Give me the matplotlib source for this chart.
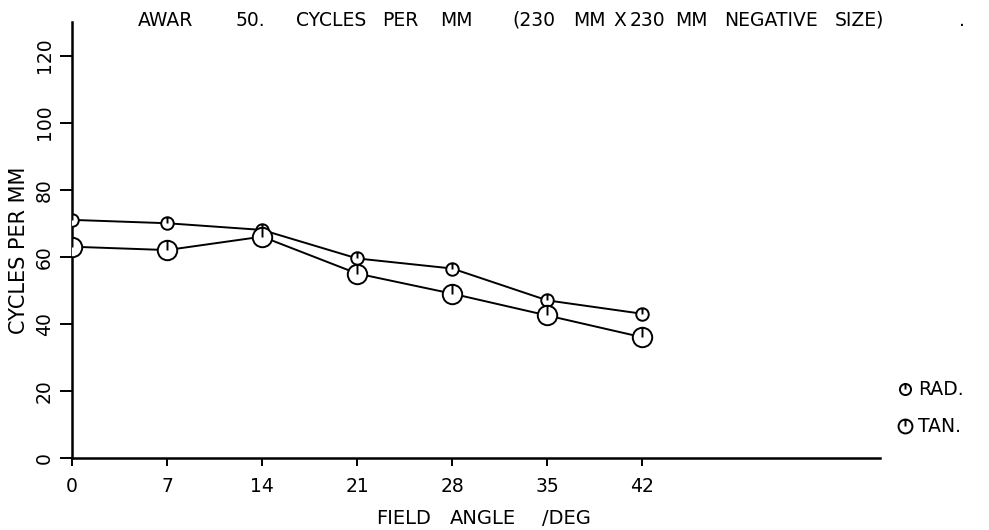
import matplotlib
matplotlib.use("Agg")
import matplotlib.pyplot as plt
from matplotlib.path import Path

angles = [0, 7, 14, 21, 28, 35, 42]
rad = [71, 70, 68, 59.5, 56.5, 47, 43]
tan = [63, 62, 66, 55, 49, 42.5, 36]
xticks = [0, 7, 14, 21, 28, 35, 42]
yticks = [0, 20, 40, 60, 80, 100, 120]

title_words = ["AWAR", "50.", "CYCLES", "PER", "MM", "(230", "MM", "X", "230",
               "MM", "NEGATIVE", "SIZE)", "."]
title_word_x = [166, 250, 331, 400, 456, 534, 589, 620, 647, 691, 771, 859, 962]
xlabel_words = ["FIELD", "ANGLE", "/DEG"]
xlabel_word_x = [404, 483, 566]

plt.rcParams['font.family'] = ['DejaVu Sans']

marker = Path.make_compound_path(Path.unit_circle(), Path([[0, 0], [0, 1]]))

fig = plt.figure(figsize=(9.89, 5.30), dpi=100)
ax = fig.add_axes([72/989, 1-458/530, (880-72)/989, (458-22)/530])
ax.set_xlim(0, 59.5)
ax.set_ylim(0, 130)

for vals, ms in ((rad, 9), (tan, 14)):
    ax.plot(angles, vals, color='black', lw=1.4, marker=marker, ms=ms,
            mfc='white', mec='black', mew=1.4, zorder=3)

for s in ('top', 'right'):
    ax.spines[s].set_visible(False)
for s in ('left', 'bottom'):
    ax.spines[s].set_linewidth(1.8)

ax.set_xticks(xticks)
ax.set_xticklabels([str(t) for t in xticks], fontsize=13.5)
ax.set_yticks(yticks)
ax.set_yticklabels([str(t) for t in yticks], fontsize=13.5, rotation=90, va='center')
ax.tick_params(axis='x', direction='out', length=6, width=1.4, pad=8)
ax.tick_params(axis='y', direction='out', length=9, width=1.4, pad=4)

ax.set_ylabel("CYCLES PER MM", fontsize=15)
ax.yaxis.set_label_coords(-(72-29)/(880-72), (458-250)/(458-22))

for w, x in zip(title_words, title_word_x):
    fig.text(x/989, 1-26/530, w, fontsize=13.5, va='baseline', ha='center')
for w, x in zip(xlabel_words, xlabel_word_x):
    fig.text(x/989, 1-524/530, w, fontsize=14, va='baseline', ha='center')

# legend
fig.text(918/989, 1-395/530, "RAD.", fontsize=13.5, va='baseline', ha='left')
fig.text(918/989, 1-432/530, "TAN.", fontsize=13.5, va='baseline', ha='left')
leg_ax = fig.add_axes([0, 0, 1, 1], facecolor='none')
leg_ax.set_xlim(0, 989)
leg_ax.set_ylim(530, 0)
leg_ax.axis('off')
leg_ax.plot([905], [389], marker=marker, ms=8, mfc='white', mec='black', mew=1.4)
leg_ax.plot([905], [426], marker=marker, ms=10, mfc='white', mec='black', mew=1.4)

fig.savefig("out.png", dpi=100)
